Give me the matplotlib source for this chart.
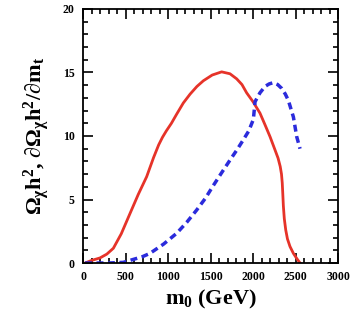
import numpy as np
import matplotlib.pyplot as plt
from matplotlib.ticker import MultipleLocator

plt.rcParams['font.family'] = ['Liberation Serif', 'DejaVu Serif']
plt.rcParams['font.weight'] = 'bold'
plt.rcParams['mathtext.fontset'] = 'custom'
plt.rcParams['mathtext.rm'] = 'Liberation Serif:bold'
plt.rcParams['mathtext.it'] = 'Liberation Serif:bold'
plt.rcParams['mathtext.bf'] = 'Liberation Serif:bold'

# relic density (solid red)
m0_omega = [24, 100, 200, 280, 357, 450, 553, 650, 749, 830, 890, 935, 980, 1040,
            1100, 1180, 1260, 1340, 1416, 1520, 1631, 1729, 1808, 1870, 1925,
            2000, 2082, 2140, 2200, 2259, 2295, 2320, 2335, 2344, 2350, 2357,
            2368, 2385, 2405, 2435, 2475, 2515, 2553]
omega = [0.0, 0.2, 0.4, 0.7, 1.16, 2.3, 3.9, 5.4, 6.8, 8.3, 9.3, 9.9, 10.4, 11.0,
         11.7, 12.6, 13.3, 13.9, 14.35, 14.8, 15.05, 14.9, 14.5, 14.05, 13.4,
         12.7, 11.8, 10.9, 9.95, 8.9, 8.25, 7.6, 7.0, 6.3, 5.5, 4.5,
         3.5, 2.6, 1.9, 1.3, 0.76, 0.35, 0.0]

# sensitivity to m_t (dashed blue)
m0_sens = [24, 150, 300, 474, 600, 700, 788, 950, 1102, 1220, 1337, 1440, 1533,
           1630, 1729, 1810, 1886, 1950, 2004, 2024, 2082, 2141, 2190, 2239,
           2290, 2337, 2380, 2416, 2475, 2514, 2553]
sens = [0.0, 0.0, 0.0, 0.05, 0.3, 0.5, 0.76, 1.5, 2.34, 3.2, 4.17, 5.1, 6.1,
        7.1, 8.1, 8.9, 9.7, 10.4, 11.3, 12.7, 13.4, 13.9, 14.1, 14.2,
        14.05, 13.75, 13.3, 12.8, 11.5, 9.95, 9.0]

fig = plt.figure(figsize=(3.51, 3.27), dpi=100)
ax = fig.add_axes([0.2365, 0.1957, 0.7265, 0.7768])

ax.plot(m0_omega, omega, color='#e63329', lw=2.0)
ax.plot(m0_sens, sens, color='#2b2bdc', lw=2.5, linestyle=(0, (2, 1.3)))

ax.set_xlim(0, 3000)
ax.set_ylim(0, 20)
ax.xaxis.set_major_locator(MultipleLocator(500))
ax.xaxis.set_minor_locator(MultipleLocator(100))
ax.yaxis.set_major_locator(MultipleLocator(5))
ax.yaxis.set_minor_locator(MultipleLocator(1))
ax.tick_params(which='both', direction='in', top=True, right=True, width=1.2,
               labelsize=8.5, pad=6)
ax.tick_params(which='major', length=7)
ax.tick_params(which='minor', length=3.5)
for s in ax.spines.values():
    s.set_linewidth(1.3)

ax.set_xlabel(r'm$_0$ (GeV)', fontsize=16, fontweight='bold', labelpad=3)
ax.set_ylabel(r'$\Omega_\chi$h$^2$, $\partial\Omega_\chi$h$^2$/$\partial$m$_t$',
              fontsize=16, fontweight='bold', labelpad=8)

fig.savefig('out.png', dpi=100)
